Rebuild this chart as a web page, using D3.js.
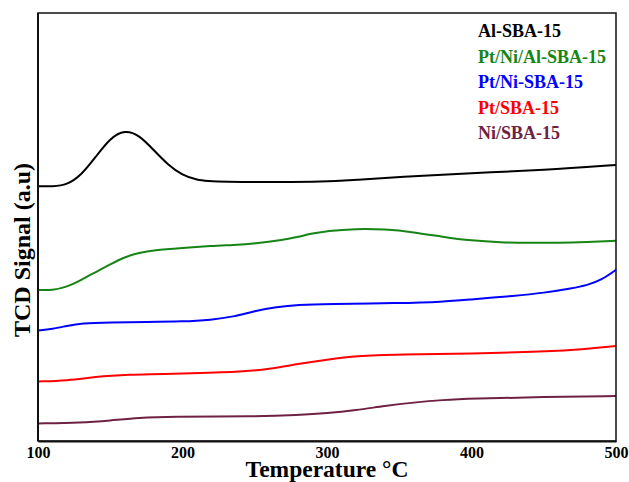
<!DOCTYPE html>
<html>
<head>
<meta charset="utf-8">
<script src="https://cdn.jsdelivr.net/npm/d3@7"></script>
<style>
  body { margin: 0; background: #fff; }
  text { font-family: 'Liberation Serif', 'Times New Roman', serif; font-weight: bold; }
</style>
</head>
<body>
<svg id="chart" width="629" height="482"></svg>
<script>
// temperature (°C) for each sample point, and TCD signal (a.u.)
const alSbaT = [100, 110, 120, 130, 140, 150, 160, 170, 180, 190, 200, 210, 220, 300, 320, 350, 400, 450, 500];
const alSba = [59.5, 59.5, 59.8, 62.1, 66.4, 70.8, 72.7, 71.5, 68.0, 64.5, 62.1, 61.0, 60.5, 60.5, 61.0, 61.7, 62.6, 63.3, 64.5];

const ptNiAlT = [100, 110, 120, 130, 140, 150, 160, 170, 180, 200, 220, 235, 250, 270, 280, 290, 300, 320, 340, 360, 380, 400, 420, 440, 460, 480, 500];
const ptNiAl = [35.3, 35.2, 36.0, 37.6, 39.5, 41.3, 43.0, 44.0, 44.6, 45.1, 45.6, 45.8, 46.1, 47.0, 47.7, 48.5, 49.1, 49.6, 49.5, 48.8, 47.7, 46.8, 46.4, 46.3, 46.3, 46.5, 46.8];

const ptNiT = [100, 110, 120, 130, 150, 175, 200, 220, 235, 250, 265, 280, 300, 350, 380, 400, 430, 450, 470, 480, 490, 500];
const ptNi = [25.8, 26.2, 26.9, 27.5, 27.7, 27.8, 27.9, 28.3, 29.0, 30.4, 31.3, 31.8, 32.0, 32.2, 32.5, 33.1, 33.9, 34.6, 35.7, 36.4, 37.6, 40.0];

const ptT = [100, 120, 140, 160, 200, 240, 260, 280, 300, 320, 350, 400, 450, 480, 500];
const pt = [13.9, 14.1, 15.0, 15.5, 15.8, 16.1, 16.8, 18.0, 19.0, 19.9, 20.2, 20.4, 20.9, 21.5, 22.2];

const niT = [100, 130, 150, 170, 190, 250, 280, 300, 320, 340, 360, 380, 400, 450, 500];
const ni = [4.1, 4.3, 4.8, 5.4, 5.7, 5.7, 6.1, 6.5, 7.2, 8.2, 9.0, 9.6, 9.9, 10.3, 10.5];

const names = ['Al-SBA-15', 'Pt/Ni/Al-SBA-15', 'Pt/Ni-SBA-15', 'Pt/SBA-15', 'Ni/SBA-15'];
const colors = ['#000000', '#168516', '#0000ff', '#ff0000', '#6e2143'];
const xTicks = [100, 200, 300, 400, 500];

const series = [
  { name: names[0], t: alSbaT, v: alSba },
  { name: names[1], t: ptNiAlT, v: ptNiAl },
  { name: names[2], t: ptNiT, v: ptNi },
  { name: names[3], t: ptT, v: pt },
  { name: names[4], t: niT, v: ni }
];

const svg = d3.select('#chart'),
  margin = { top: 13, right: 13, bottom: 41, left: 38 },
  width = +svg.attr('width') - margin.left - margin.right,
  height = +svg.attr('height') - margin.top - margin.bottom,
  g = svg.append('g').attr('transform', `translate(${margin.left},${margin.top})`);

const x = d3.scaleLinear().domain([100, 500]).range([0, width]);
const y = d3.scaleLinear().domain([0, 100]).range([height, 0]);

const line = d3.line()
  .x(d => x(d[0]))
  .y(d => y(d[1]))
  .curve(d3.curveBasis);

series.forEach((s, i) => {
  g.append('path')
    .datum(s.t.map((t, j) => [t, s.v[j]]))
    .attr('fill', 'none')
    .attr('stroke', colors[i])
    .attr('stroke-width', 2)
    .attr('d', line);
});

// frame
g.append('rect')
  .attr('width', width)
  .attr('height', height)
  .attr('fill', 'none')
  .attr('stroke', '#111')
  .attr('stroke-width', 1.5);

const xAxis = g.append('g')
  .attr('transform', `translate(0,${height})`)
  .call(d3.axisBottom(x).tickValues(xTicks).tickSize(0).tickPadding(6).tickFormat(d3.format('d')));
xAxis.select('.domain').attr('stroke', '#111').attr('stroke-width', 2);
xAxis.selectAll('text')
  .attr('fill', '#000')
  .style('font-size', '16px')
  .style('font-family', "'Liberation Serif', 'Times New Roman', serif")
  .style('font-weight', 'bold');

g.append('line')
  .attr('x1', 0).attr('x2', 0)
  .attr('y1', 0).attr('y2', height)
  .attr('stroke', '#111')
  .attr('stroke-width', 2);

svg.append('text')
  .attr('x', margin.left + width / 2)
  .attr('y', 477)
  .attr('text-anchor', 'middle')
  .style('font-size', '23.5px')
  .text('Temperature \u00B0C');

svg.append('text')
  .attr('transform', 'translate(30,250) rotate(-90)')
  .attr('text-anchor', 'middle')
  .style('font-size', '24px')
  .text('TCD Signal (a.u)');

// legend
const legend = svg.append('g').attr('transform', 'translate(478,37)');
names.forEach((n, i) => {
  legend.append('text')
    .attr('y', i * 25.5)
    .attr('fill', colors[i])
    .style('font-size', '18px')
    .text(n);
});
</script>
</body>
</html>
